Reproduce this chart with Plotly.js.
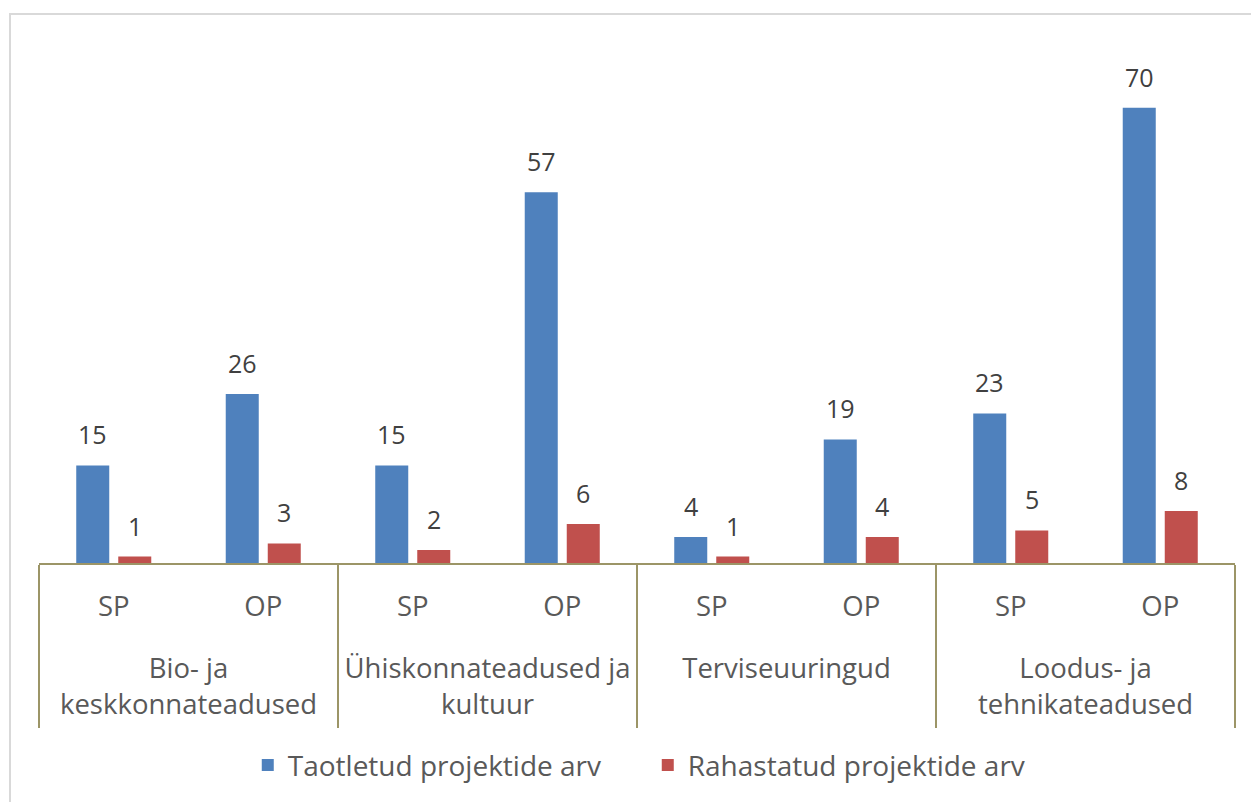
<!DOCTYPE html>
<html>
<head>
<meta charset="utf-8">
<script src="https://cdn.plot.ly/plotly-3.0.1.min.js"></script>
<style>
  html, body { margin: 0; padding: 0; background: #ffffff; }
  #wrap { position: relative; width: 1251px; height: 802px; overflow: hidden; }
  #chart { position: absolute; left: 0; top: 0; width: 1251px; height: 802px; }
  #frame { position: absolute; left: 9px; top: 13px; width: 1300px; height: 850px;
           border: 2px solid #d9d9d9; box-sizing: border-box; pointer-events: none; }
</style>
</head>
<body>
<div id="wrap">
  <div id="chart"></div>
  <div id="frame"></div>
</div>
<script>
// ---- data ----
const fields = ["Bio- ja<br>keskkonnateadused", "Ühiskonnateadused ja<br>kultuur", "Terviseuuringud", "Loodus- ja<br>tehnikateadused"];
const projectTypes = ["SP", "OP"];
const applied = [15, 26, 15, 57, 4, 19, 23, 70];   // Taotletud projektide arv
const funded  = [1, 3, 2, 6, 1, 4, 5, 8];          // Rahastatud projektide arv
const seriesNames = ["Taotletud projektide arv", "Rahastatud projektide arv"];

// invisible spacers so that the two label levels are spread like the original
const NB = "\u00a0";
const INNER_SPACER = "<br><span style='font-size:45px'>" + NB + "</span>";
const outerPad = "<span style='font-size:45px'>" + NB + "</span>";
function outerLabel(f) {
  const lines = f.split("<br>");
  lines[lines.length - 1] = outerPad + lines[lines.length - 1] + outerPad;
  return lines.join("<br>");
}

// ---- build multicategory x ----
const outer = [], inner = [];
fields.forEach(f => projectTypes.forEach(p => { outer.push(outerLabel(f)); inner.push(p + INNER_SPACER); }));

const BARGAP = 0.438;
const textFont = "Open Sans, sans-serif";

const traces = [
  { type: "bar", name: seriesNames[0], x: [outer, inner], y: applied,
    marker: { color: "#4F81BD" }, hoverinfo: "y" },
  { type: "bar", name: seriesNames[1], x: [outer, inner], y: funded,
    marker: { color: "#C0504D" }, hoverinfo: "y" }
];

// data labels via annotations placed on the library's axes
const slot = (1 - BARGAP) / 4;
const annotations = [];
[applied, funded].forEach((vals, s) => {
  vals.forEach((v, i) => {
    annotations.push({
      x: i + (s === 0 ? -slot : slot), y: v, xref: "x", yref: "y",
      text: String(v), showarrow: false, yanchor: "bottom", yshift: 12,
      font: { family: textFont, size: 25, color: "#404040" }
    });
  });
});

const layout = {
  width: 1251, height: 802,
  margin: { l: 39, r: 16, t: 20, b: 237 },
  paper_bgcolor: "rgba(0,0,0,0)", plot_bgcolor: "rgba(0,0,0,0)",
  barmode: "group", bargap: BARGAP, bargroupgap: 0.214,
  showlegend: true,
  legend: { orientation: "h", x: 0.509, xanchor: "center", y: -0.3725, yanchor: "middle",
            entrywidth: 355,
            font: { family: textFont, size: 28, color: "#595959" } },
  xaxis: {
    type: "multicategory",
    showline: true, linecolor: "#9C9567", linewidth: 2,
    showdividers: true, dividercolor: "#9C9567", dividerwidth: 2,
    ticks: "", showgrid: false, zeroline: false,
    tickfont: { family: textFont, size: 27.5, color: "#595959" },
    ticklabelstandoff: 18
  },
  yaxis: { visible: false, range: [0, 83.48], showgrid: false, zeroline: false },
  annotations: annotations,
  font: { family: textFont, color: "#595959" }
};

Plotly.newPlot("chart", traces, layout, { displayModeBar: false, staticPlot: true });
</script>
</body>
</html>
